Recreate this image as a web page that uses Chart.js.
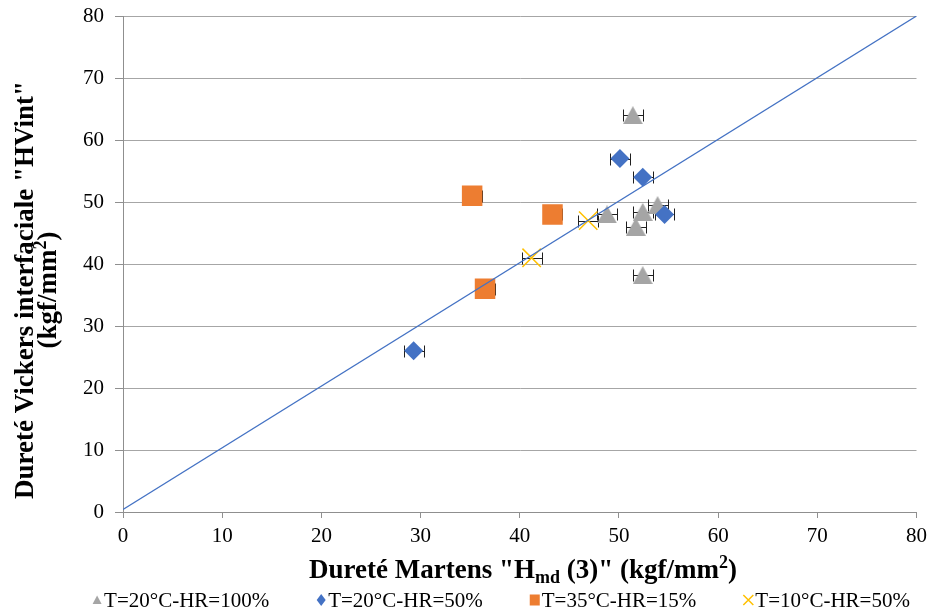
<!DOCTYPE html>
<html>
<head>
<meta charset="utf-8">
<script src="https://cdn.jsdelivr.net/npm/chart.js@4.4.1/dist/chart.umd.min.js"></script>
<style>
html,body{margin:0;padding:0;background:#fff;}
#wrap{width:931px;height:614px;position:relative;}
canvas{display:block;}
</style>
</head>
<body>
<div id="wrap"><canvas id="c" width="931" height="614" style="width:931px;height:614px;"></canvas></div>
<script>
// ---------- data ----------
const seriesNames = ['T=20°C-HR=100%', 'T=20°C-HR=50%', 'T=35°C-HR=15%', 'T=10°C-HR=50%'];

const hr100_x   = [51.4, 48.8, 51.7, 52.4, 53.9, 52.4];
const hr100_y   = [64.0, 48.0, 46.0, 48.4, 49.5, 38.2];
const hr100_err = [1, 1, 1, 1, 1, 1];

const hr50_x   = [29.3, 50.1, 52.4, 54.6];
const hr50_y   = [26.0, 57.0, 54.0, 48.0];
const hr50_err = [1, 1, 1, 1];

const t35_x   = [35.2, 43.3, 36.5];
const t35_y   = [51.0, 48.0, 36.0];
const t35_err = [1, 1, 1];

const t10_x   = [41.2, 46.9];
const t10_y   = [41.0, 47.0];
const t10_err = [1, 1];

const diag_x = [0, 80];
const diag_y = [0.4, 80];

const xTickValues = [0, 10, 20, 30, 40, 50, 60, 70, 80];
const yTickValues = [0, 10, 20, 30, 40, 50, 60, 70, 80];

const xTitleParts = [['Dureté Martens "H', 'n'], ['md', 'sub'], [' (3)" (kgf/mm', 'n'], ['2', 'sup'], [')', 'n']];
const yTitleLine1 = [['Dureté Vickers interfaciale "HVint"', 'n']];
const yTitleLine2 = [['(kgf/mm', 'n'], ['2', 'sup'], [')', 'n']];

// ---------- helpers ----------
const pts = (xs, ys) => xs.map((v, i) => ({x: v, y: ys[i]}));
const FONT = "'Liberation Serif', 'Times New Roman', serif";
const GRAY = '#A5A5A5', BLUE = '#4472C4', ORANGE = '#ED7D31', YELLOW = '#FFC000';

function triangleCanvas(w, h, color) {
  const c = document.createElement('canvas');
  c.width = w; c.height = h;
  const g = c.getContext('2d');
  g.fillStyle = color;
  g.beginPath();
  g.moveTo(w / 2, 0); g.lineTo(w, h); g.lineTo(0, h); g.closePath();
  g.fill();
  return c;
}
const triStyle = triangleCanvas(20, 18, GRAY);

const errorBars = {
  id: 'errorBars',
  beforeDatasetsDraw(chart) {
    const {ctx, scales: {x, y}} = chart;
    ctx.save();
    ctx.strokeStyle = '#1f1f1f';
    ctx.lineWidth = 1;
    chart.data.datasets.forEach(ds => {
      if (!ds.errX) return;
      ds.data.forEach((p, j) => {
        const e = ds.errX[j];
        const x0 = Math.round(x.getPixelForValue(p.x - e)) + 0.5;
        const x1 = Math.round(x.getPixelForValue(p.x + e)) + 0.5;
        const py = Math.round(y.getPixelForValue(p.y)) + 0.5;
        ctx.beginPath();
        ctx.moveTo(x0, py); ctx.lineTo(x1, py);
        ctx.moveTo(x0, py - 6); ctx.lineTo(x0, py + 6);
        ctx.moveTo(x1, py - 6); ctx.lineTo(x1, py + 6);
        ctx.stroke();
      });
    });
    ctx.restore();
  }
};

function richWidth(ctx, parts, size) {
  let w = 0;
  parts.forEach(([t, k]) => {
    const s = k === 'n' ? size : Math.round(size * 0.65);
    ctx.font = 'bold ' + s + 'px ' + FONT;
    w += ctx.measureText(t).width;
  });
  return w;
}
function drawRich(ctx, parts, size, cx, baseline) {
  const total = richWidth(ctx, parts, size);
  let x = cx - total / 2;
  ctx.textAlign = 'left';
  ctx.textBaseline = 'alphabetic';
  parts.forEach(([t, k]) => {
    const s = k === 'n' ? size : Math.round(size * 0.65);
    ctx.font = 'bold ' + s + 'px ' + FONT;
    const dy = k === 'sub' ? 5 : (k === 'sup' ? -10 : 0);
    ctx.fillText(t, x, baseline + dy);
    x += ctx.measureText(t).width;
  });
}

const titlesAndLegend = {
  id: 'titlesAndLegend',
  afterDraw(chart) {
    const {ctx, chartArea} = chart;
    ctx.save();
    ctx.fillStyle = '#000';
    // x axis title
    drawRich(ctx, xTitleParts, 27, 523, 578);
    // y axis title (rotated)
    ctx.save();
    ctx.translate(0, 290);
    ctx.rotate(-Math.PI / 2);
    drawRich(ctx, yTitleLine1, 27, 0, 33);
    drawRich(ctx, yTitleLine2, 27, 0, 56);
    ctx.restore();

    // legend
    ctx.font = '21px ' + FONT;
    const widths = seriesNames.map(n => ctx.measureText(n).width);
    const markW = 13, gap = 46;
    const total = widths.reduce((a, b) => a + b, 0) + markW * 4 + gap * 3;
    let x = 500.5 - total / 2;
    const cy = 600, base = 606.5;
    seriesNames.forEach((name, i) => {
      const mx = x + 6;
      ctx.beginPath();
      if (i === 0) {
        ctx.fillStyle = GRAY;
        ctx.moveTo(mx, cy - 4.5); ctx.lineTo(mx + 4.5, cy + 4); ctx.lineTo(mx - 4.5, cy + 4); ctx.closePath(); ctx.fill();
      } else if (i === 1) {
        ctx.fillStyle = BLUE;
        ctx.moveTo(mx, cy - 6); ctx.lineTo(mx + 4.5, cy); ctx.lineTo(mx, cy + 6); ctx.lineTo(mx - 4.5, cy); ctx.closePath(); ctx.fill();
      } else if (i === 2) {
        ctx.fillStyle = ORANGE;
        ctx.fillRect(mx - 5, cy - 5.5, 10, 11);
      } else {
        ctx.strokeStyle = YELLOW; ctx.lineWidth = 1.5;
        ctx.moveTo(mx - 5, cy - 5); ctx.lineTo(mx + 5, cy + 5);
        ctx.moveTo(mx + 5, cy - 5); ctx.lineTo(mx - 5, cy + 5); ctx.stroke();
      }
      ctx.fillStyle = '#000';
      ctx.font = '21px ' + FONT;
      ctx.textAlign = 'left';
      ctx.textBaseline = 'alphabetic';
      ctx.fillText(name, x + markW, base);
      x += markW + widths[i] + gap;
    });
    ctx.restore();
  }
};

new Chart(document.getElementById('c'), {
  type: 'scatter',
  data: {
    datasets: [
      {
        type: 'line', label: 'diag', data: pts(diag_x, diag_y),
        borderColor: BLUE, borderWidth: 1.3, pointRadius: 0, fill: false, order: 0
      },
      {
        label: seriesNames[0], data: pts(hr100_x, hr100_y), errX: hr100_err,
        pointStyle: triStyle, pointRadius: 10, backgroundColor: GRAY, borderColor: GRAY, order: 4
      },
      {
        label: seriesNames[1], data: pts(hr50_x, hr50_y), errX: hr50_err,
        pointStyle: 'rectRot', pointRadius: 9.5, backgroundColor: BLUE, borderColor: BLUE, borderWidth: 0, order: 3
      },
      {
        label: seriesNames[2], data: pts(t35_x, t35_y), errX: t35_err,
        pointStyle: 'rect', pointRadius: 14.5, backgroundColor: ORANGE, borderColor: ORANGE, borderWidth: 0, order: 2
      },
      {
        label: seriesNames[3], data: pts(t10_x, t10_y), errX: t10_err,
        pointStyle: 'crossRot', pointRadius: 13, backgroundColor: YELLOW, borderColor: YELLOW, borderWidth: 1.5, order: 1
      }
    ]
  },
  options: {
    responsive: false,
    maintainAspectRatio: false,
    animation: false,
    devicePixelRatio: 1,
    layout: {padding: {top: 16, right: 13, bottom: 0, left: 0}},
    plugins: {legend: {display: false}, tooltip: {enabled: false}},
    scales: {
      x: {
        type: 'linear', min: 0, max: 80,
        afterBuildTicks: s => { s.ticks = xTickValues.map(v => ({value: v})); },
        afterFit: s => { s.height = 102; s.paddingLeft = 0; s.paddingRight = 0; s.paddingTop = 0; s.paddingBottom = 0; },
        grid: {drawOnChartArea: false, drawTicks: true, tickLength: 6, tickColor: '#8F8F8F'},
        border: {display: true, color: '#8F8F8F', width: 1},
        ticks: {color: '#000', font: {family: FONT, size: 21}, padding: 6, maxRotation: 0, autoSkip: false},
        title: {display: false}
      },
      y: {
        type: 'linear', min: 0, max: 80,
        afterBuildTicks: s => { s.ticks = yTickValues.map(v => ({value: v})); },
        afterFit: s => { s.width = 123; s.paddingLeft = 0; s.paddingRight = 0; s.paddingTop = 0; s.paddingBottom = 0; },
        grid: {color: '#A6A6A6', tickColor: '#8F8F8F', drawTicks: true, tickLength: 8, lineWidth: 1},
        border: {display: true, color: '#8F8F8F', width: 1},
        ticks: {color: '#000', font: {family: FONT, size: 21}, padding: 11, autoSkip: false},
        title: {display: false}
      }
    }
  },
  plugins: [errorBars, titlesAndLegend]
});
</script>
</body>
</html>
